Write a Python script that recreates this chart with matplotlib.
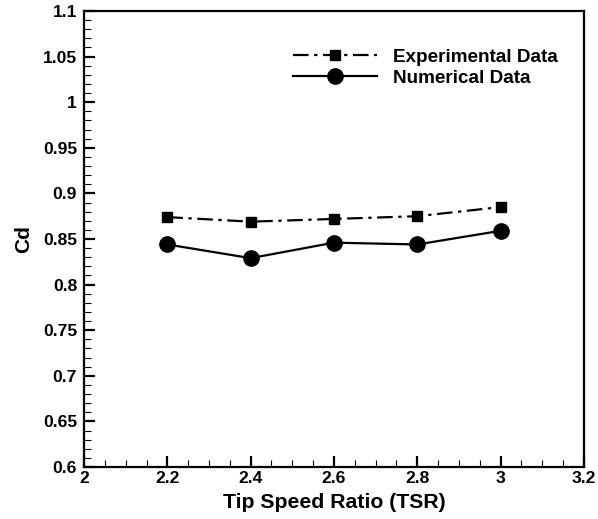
import matplotlib.pyplot as plt
from matplotlib.ticker import MultipleLocator

plt.rcParams['font.family'] = ['Liberation Sans', 'DejaVu Sans']
plt.rcParams['font.weight'] = 'bold'

tsr = [2.2, 2.4, 2.6, 2.8, 3.0]
cd_exp = [0.874, 0.869, 0.872, 0.875, 0.885]
cd_num = [0.844, 0.829, 0.846, 0.844, 0.859]

fig = plt.figure(figsize=(5.98, 5.19), dpi=100)
ax = fig.add_axes([0.1405, 0.1002, 0.836, 0.8786])

ax.plot(tsr, cd_exp, color='black', lw=1.6, linestyle=(0, (7, 2.5, 1.5, 2.5)),
        marker='s', markersize=7.5, label='Experimental Data')
ax.plot(tsr, cd_num, color='black', lw=1.6, linestyle='-',
        marker='o', markersize=11, label='Numerical Data')

ax.set_xlim(2, 3.2)
ax.set_ylim(0.6, 1.1)
ax.xaxis.set_major_locator(MultipleLocator(0.2))
ax.xaxis.set_minor_locator(MultipleLocator(0.05))
ax.yaxis.set_major_locator(MultipleLocator(0.05))
ax.yaxis.set_minor_locator(MultipleLocator(0.01))
ax.set_xticklabels([f'{v:g}' for v in ax.get_xticks()])
ax.set_yticklabels([f'{v:g}' for v in ax.get_yticks()])

ax.tick_params(which='major', direction='in', length=8, width=1.6, labelsize=12.6)
ax.tick_params(which='minor', direction='in', length=5, width=0.8)
ax.tick_params(axis='x', which='major', pad=3)
ax.tick_params(axis='y', which='major', pad=5)
for s in ax.spines.values():
    s.set_linewidth(1.6)

ax.set_xlabel('Tip Speed Ratio (TSR)', fontsize=15.3, fontweight='bold', labelpad=5)
ax.set_ylabel('Cd', fontsize=15, fontweight='bold', labelpad=7)

ax.legend(loc='upper left', bbox_to_anchor=(0.418, 0.918), frameon=False, fontsize=13.6,
          borderpad=0, borderaxespad=0, handlelength=4.45, handletextpad=0.85,
          labelspacing=0.2)

fig.savefig('out.png', dpi=100)
